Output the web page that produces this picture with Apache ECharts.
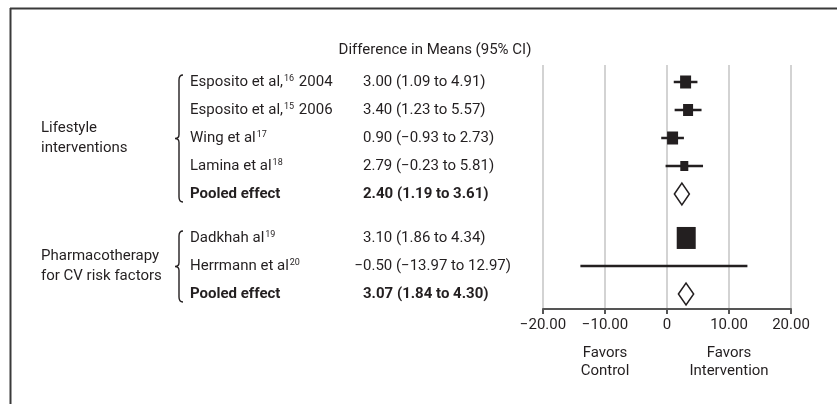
<!DOCTYPE html>
<html>
<head>
<meta charset="utf-8">
<script src="https://cdn.jsdelivr.net/npm/echarts@6/dist/echarts.min.js"></script>
<style>
html,body{margin:0;padding:0;background:#fff;}
#chart{width:837px;height:404px;}
</style>
</head>
<body>
<div id="chart"></div>
<script>
// ---- data ----
const names = ['Esposito et al,', 'Esposito et al,', 'Wing et al', 'Lamina et al', 'Pooled effect', 'Dadkhah al', 'Herrmann et al', 'Pooled effect'];
const refs = ['16', '15', '17', '18', '', '19', '20', ''];
const years = [' 2004', ' 2006', '', '', '', '', '', ''];
const means = [3.00, 3.40, 0.90, 2.79, 2.40, 3.10, -0.50, 3.07];
const lower = [1.09, 1.23, -0.93, -0.23, 1.19, 1.86, -13.97, 1.84];
const upper = [4.91, 5.57, 2.73, 5.81, 3.61, 4.34, 12.97, 4.30];
const pooled = [false, false, false, false, true, false, false, true];
const groupOf = [0, 0, 0, 0, 0, 1, 1, 1];
const groupLabels = ['Lifestyle\ninterventions', 'Pharmacotherapy\nfor CV risk factors'];
const xTicks = [-20, -10, 0, 10, 20];
const favorLabels = [{ x: -10, text: 'Favors\nControl' }, { x: 10, text: 'Favors\nIntervention' }];
const header = 'Difference in Means (95% CI)';

// ---- style / layout ----
const FONT = '"Liberation Sans Narrow", "Arial Narrow", "Roboto", sans-serif';
const boxSize = [[11, 13], [10, 12], [11, 13], [8, 10], null, [19, 22], null, null];
const GROUP_GAP = 0.57;
const rowPos = i => i + 1 + groupOf[i] * GROUP_GAP;
const fmt = v => v.toFixed(2).replace('-', '\u2212');
const NAME_X = 190, EST_X = 363, GROUP_X = 41, BRACE_X = 179;

const chart = echarts.init(document.getElementById('chart'));

function renderRow(params, api) {
  const i = api.value(0);
  const p = rowPos(i);
  const c = api.coord([means[i], p]);
  const xm = c[0], y = c[1];
  const xl = api.coord([lower[i], p])[0];
  const xu = api.coord([upper[i], p])[0];
  const children = [];
  const bold = pooled[i] ? 'bold' : 'normal';
  // name
  children.push({
    type: 'text',
    style: {
      x: NAME_X, y: y, text: names[i] + (refs[i] ? '{sup|' + refs[i] + '}' : '') + years[i],
      fontFamily: FONT, fontSize: 15, fontWeight: bold, fill: '#231f20',
      align: 'left', verticalAlign: 'middle',
      rich: { sup: { fontSize: 9, fontFamily: FONT, fill: '#231f20', verticalAlign: 'top', padding: [0, 1, 0, 1] } }
    }
  });
  // estimate
  let est = fmt(means[i]) + ' (' + fmt(lower[i]) + ' to ' + fmt(upper[i]) + ')';
  if (est[0] === '\u2212') {
    children.push({ type: 'text', style: { x: EST_X, y: y, text: '\u2212', fontFamily: FONT, fontSize: 15, fontWeight: bold, fill: '#231f20', align: 'right', verticalAlign: 'middle' } });
    est = est.slice(1);
  }
  children.push({ type: 'text', style: { x: EST_X, y: y, text: est, fontFamily: FONT, fontSize: 15, fontWeight: bold, fill: '#231f20', align: 'left', verticalAlign: 'middle' } });
  if (pooled[i]) {
    children.push({
      type: 'polygon',
      shape: { points: [[xl, y], [xm, y - 11], [xu, y], [xm, y + 11]] },
      style: { fill: '#fff', stroke: '#231f20', lineWidth: 1.5 }
    });
  } else {
    children.push({ type: 'line', shape: { x1: xl, y1: y, x2: xu, y2: y }, style: { stroke: '#231f20', lineWidth: 2.5 } });
    const s = boxSize[i];
    if (s) {
      children.push({ type: 'rect', shape: { x: xm - s[0] / 2, y: y - s[1] / 2, width: s[0], height: s[1] }, style: { fill: '#231f20' } });
    }
  }
  return { type: 'group', children: children };
}

function renderGroup(params, api) {
  const g = api.value(0);
  const rows = groupOf.map((v, i) => v === g ? i : -1).filter(i => i >= 0);
  const yTop = api.coord([0, rowPos(rows[0])])[1] - 7;
  const yBot = api.coord([0, rowPos(rows[rows.length - 1])])[1] + 8;
  const yMid = (yTop + yBot) / 2;
  const x = BRACE_X;
  const path = 'M' + (x + 4) + ',' + yTop +
    ' Q' + x + ',' + yTop + ' ' + x + ',' + (yTop + 5) +
    ' L' + x + ',' + (yMid - 4) +
    ' Q' + x + ',' + yMid + ' ' + (x - 4) + ',' + yMid +
    ' Q' + x + ',' + yMid + ' ' + x + ',' + (yMid + 4) +
    ' L' + x + ',' + (yBot - 5) +
    ' Q' + x + ',' + yBot + ' ' + (x + 4) + ',' + yBot;
  return {
    type: 'group',
    children: [
      { type: 'path', shape: { pathData: path }, style: { fill: 'none', stroke: '#231f20', lineWidth: 1.4 } },
      { type: 'text', style: { x: GROUP_X, y: yMid, text: groupLabels[g], fontFamily: FONT, fontSize: 15, lineHeight: 20, fill: '#231f20', align: 'left', verticalAlign: 'middle' } }
    ]
  };
}

function renderFavor(params, api) {
  const i = api.value(0);
  const c = api.coord([favorLabels[i].x, 9.107]);
  return {
    type: 'text',
    style: { x: c[0], y: c[1] + 35, text: favorLabels[i].text, fontFamily: FONT, fontSize: 15, lineHeight: 18, fill: '#231f20', align: 'center', verticalAlign: 'top' }
  };
}

chart.setOption({
  animation: false,
  grid: { left: 543, right: 46, top: 65, bottom: 95 },
  xAxis: {
    type: 'value', min: xTicks[0], max: xTicks[xTicks.length - 1], interval: 10,
    axisLine: { show: true, onZero: false, lineStyle: { color: '#555', width: 2 } },
    axisTick: { show: true, length: 5, lineStyle: { color: '#555', width: 2 } },
    axisLabel: { margin: 9, fontSize: 15, fontFamily: FONT, color: '#231f20', formatter: v => v === 0 ? '0' : fmt(v) },
    splitLine: { show: true, lineStyle: { color: '#c4c4c4', width: 1.5 } }
  },
  yAxis: { type: 'value', inverse: true, min: 0.393, max: 9.107, show: false },
  graphic: [
    { type: 'line', shape: { x1: 10, y1: 8.5, x2: 837, y2: 8.5 }, style: { stroke: '#3a3a3a', lineWidth: 2 } },
    { type: 'line', shape: { x1: 10.5, y1: 8, x2: 10.5, y2: 404 }, style: { stroke: '#3a3a3a', lineWidth: 2 } },
    { type: 'text', x: 435, y: 50, style: { text: header, fontFamily: FONT, fontSize: 15, fill: '#231f20', align: 'center', verticalAlign: 'middle' } }
  ],
  series: [
    { type: 'custom', renderItem: renderRow, data: means.map((m, i) => [i, m, rowPos(i)]), encode: { x: 1, y: 2 }, clip: false, silent: true },
    { type: 'custom', renderItem: renderGroup, data: groupLabels.map((g, i) => [i]), encode: { x: -1, y: -1 }, clip: false, silent: true },
    { type: 'custom', renderItem: renderFavor, data: favorLabels.map((f, i) => [i]), encode: { x: -1, y: -1 }, clip: false, silent: true }
  ]
});
</script>
</body>
</html>
